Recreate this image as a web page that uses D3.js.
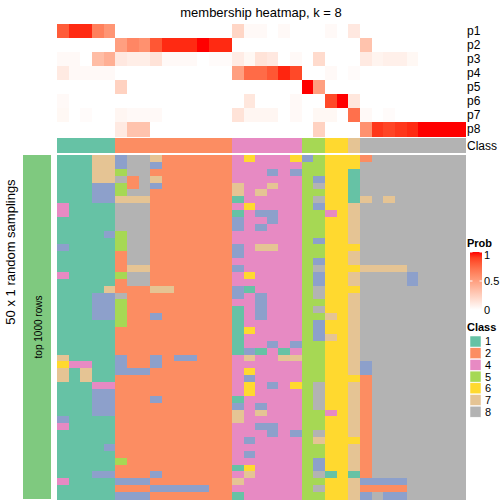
<!DOCTYPE html>
<html>
<head>
<meta charset="utf-8">
<script src="https://cdn.jsdelivr.net/npm/d3@7"></script>
<style>
  html, body { margin: 0; padding: 0; background: #fff; }
  svg { display: block; }
  text { font-family: "Liberation Sans", Arial, Helvetica, sans-serif; fill: #000; }
</style>
</head>
<body>
<div id="chart"></div>
<script>
// ---------- DATA ----------
const title = "membership heatmap, k = 8";
const probRows = ["p1", "p2", "p3", "p4", "p5", "p6", "p7", "p8"];
const p1 = [0.8,0.95,0.95,0.65,0.55, 0,0,0,0,0,0,0,0,0,0, 0.22,0.03,0.03,0,0.03,0, 0,0, 0.03,0, 0.12, 0,0,0,0,0,0,0,0,0];
const p2 = [0,0,0,0,0, 0.5,0.62,0.57,0.82,0.95,0.95,0.95,1,0.95,0.95, 0,0,0,0,0,0, 0,0, 0,0, 0, 0.32,0,0,0,0,0,0,0,0];
const p3 = [0.03,0.03,0,0.35,0.42, 0.12,0.09,0.09,0.15,0.03,0.03,0.03,0,0.02,0.02, 0.1,0.04,0.15,0.12,0,0.03, 0,0.19, 0,0, 0, 0.11,0.06,0.08,0.08,0.04,0,0,0,0];
const p4 = [0.11,0.03,0.03,0.03,0.03, 0,0,0,0,0,0,0,0,0,0, 0.5,0.74,0.74,0.82,0.96,0.87, 0,0, 0.03,0, 0.02, 0,0,0,0,0,0,0,0,0];
const p5 = [0,0,0,0,0, 0.24,0,0,0,0,0,0,0,0,0, 0,0,0,0,0,0, 1,0.5, 0,0, 0, 0,0,0,0,0,0,0,0,0];
const p6 = [0.03,0,0,0,0, 0,0,0,0,0,0,0,0,0,0, 0,0.13,0,0,0,0.03, 0,0, 0.87,1, 0.13, 0,0,0,0,0,0,0,0,0];
const p7 = [0.04,0,0.02,0,0, 0.05,0.03,0.03,0.03,0,0,0,0,0,0, 0.15,0.05,0.05,0.05,0,0.03, 0,0.04, 0.04,0, 0.72, 0.03,0,0.02,0,0,0,0,0,0];
const p8 = [0,0,0,0,0, 0.11,0.32,0.32,0,0,0,0,0,0,0, 0,0,0,0,0,0, 0,0.24, 0,0, 0, 0.57,0.92,0.88,0.92,0.95,1,1,1,1];
const membership = [p1, p2, p3, p4, p5, p6, p7, p8];

const classAnno = [1,1,1,1,1, 2,2,2,2,2,2,2,2,2,2, 4,4,4,4,4,4, 5,5, 6,6, 7, 8,8,8,8,8,8,8,8,8];
const legendClasses = ["1", "2", "4", "5", "6", "7", "8"];
const probTicks = [0, 0.5, 1];

// 50 random samplings x 35 columns (class per cell)
const samplings = [
  "11177388722222246444635666288888888",
  "11177388322222244444455666888888888",
  "11177588222222244434355661888888888",
  "11177828722222244444453661888888888",
  "11133528322222274474458661888888888",
  "11133588222222274744455661888888888",
  "11133777222222214444458661787888888",
  "41111888222222246444453667888888888",
  "41111888222222214334455467888888888",
  "11111888222222234434455667888888888",
  "11111888222222234344455667888888888",
  "11113588222222244444455667888888888",
  "11111588222222244444453667888888888",
  "31111588222222234774455666888888888",
  "11111288222222234444455667888888888",
  "11111288222222244444453667888888888",
  "11111277222222234444458666777788888",
  "41111588222222246444453667888838888",
  "11111288222222244444453667888838888",
  "11117222772222231444458666888888888",
  "11133822222222234344458667888888888",
  "11133522222222244344455667888888888",
  "11133522222222214344458667888888888",
  "11133522322222214344455767888888888",
  "11111522222222214444453667888888888",
  "11111222222222216444453667888888888",
  "11111222222222214444453767888888888",
  "11111222222222214434355667888888888",
  "11111222222222213141455667888888888",
  "71111322323322247447755667888888888",
  "64411322322222244444455667388888888",
  "71711333222222246444455667388888888",
  "71711222222222243444455666288888888",
  "11144222222222246434658667288888888",
  "11133222222222246444458667288888888",
  "11133222322222214444458667288888888",
  "11133222222222234344458667288888888",
  "11133222222222274744455467288888888",
  "31111222222222274444455667288888888",
  "41111222222222244334455667288888888",
  "11111222222222244434358667288888888",
  "11111222222222243444457666288888888",
  "11113222222222244444455667288888888",
  "11111222222222243444455667288888888",
  "11111522222222244444453667288888888",
  "11111222222222216444453667288888888",
  "11133222322222247444458161288888888",
  "41111333222222274444455667333388888",
  "11111222333332244444458667222288888",
  "11111333222222214444455667383388888"
];

// ---------- DRAW ----------
const W = 504, H = 504;
const svg = d3.select("#chart").append("svg").attr("width", W).attr("height", H);
svg.append("rect").attr("width", W).attr("height", H).attr("fill", "#fff");

const nCol = classAnno.length;
const x = d3.scaleBand().domain(d3.range(nCol)).range([57, 465]).padding(0);
const yTop = d3.scaleBand().domain(probRows).range([24, 136]).padding(0);
const yBot = d3.scaleBand().domain(d3.range(samplings.length)).range([155, 499]).padding(0);

const probColor = d3.scaleLinear().domain([0, 1]).range(["#ffffff", "#ff0000"]).interpolate(d3.interpolateLab);
const classColor = d3.scaleOrdinal()
  .domain(["1","2","3","4","5","6","7","8"])
  .range(["#66C2A5","#FC8D62","#8DA0CB","#E78AC3","#A6D854","#FFD92F","#E5C494","#B3B3B3"]);

// title
svg.append("text").attr("x", 261).attr("y", 17).attr("text-anchor", "middle")
  .attr("font-size", 13).text(title);

// membership heatmap
const gTop = svg.append("g").attr("shape-rendering", "crispEdges");
membership.forEach((row, i) => {
  gTop.selectAll(null).data(row).enter().append("rect")
    .attr("x", (d, j) => x(j)).attr("y", yTop(probRows[i]))
    .attr("width", x.bandwidth() + 0.5).attr("height", yTop.bandwidth() + 0.5)
    .attr("fill", d => probColor(d));
});
svg.selectAll(".plab").data(probRows).enter().append("text")
  .attr("x", 467).attr("y", d => yTop(d) + yTop.bandwidth() / 2)
  .attr("dy", "0.36em").attr("font-size", 12).text(d => d);

// class annotation
const annoY = 138, annoH = 14.5;
svg.append("g").attr("shape-rendering", "crispEdges")
  .selectAll("rect").data(classAnno).enter().append("rect")
  .attr("x", (d, j) => x(j)).attr("y", annoY)
  .attr("width", x.bandwidth() + 0.5).attr("height", annoH)
  .attr("fill", d => classColor(String(d)));
svg.append("text").attr("x", 467).attr("y", annoY + annoH / 2).attr("dy", "0.36em")
  .attr("font-size", 12).text("Class");

// sampling heatmap
const gBot = svg.append("g").attr("shape-rendering", "crispEdges");
samplings.forEach((s, r) => {
  gBot.selectAll(null).data(s.split("")).enter().append("rect")
    .attr("x", (d, j) => x(j)).attr("y", yBot(r))
    .attr("width", x.bandwidth() + 0.5).attr("height", yBot.bandwidth() + 0.5)
    .attr("fill", d => classColor(d));
});

// left annotation
svg.append("rect").attr("x", 23).attr("y", 155).attr("width", 28).attr("height", 344)
  .attr("fill", "#7FC97F");
svg.append("text").attr("transform", "translate(41.5,327) rotate(-90)")
  .attr("text-anchor", "middle").attr("font-size", 10).text("top 1000 rows");
svg.append("text").attr("transform", "translate(15,252) rotate(-90)")
  .attr("text-anchor", "middle").attr("font-size", 13).text("50 x 1 random samplings");

// Prob legend
svg.append("text").attr("x", 467).attr("y", 247).attr("font-size", 11)
  .attr("font-weight", "bold").text("Prob");
const defs = svg.append("defs");
const grad = defs.append("linearGradient").attr("id", "pg")
  .attr("x1", 0).attr("y1", 1).attr("x2", 0).attr("y2", 0);
d3.range(0, 1.0001, 0.1).forEach(t => {
  grad.append("stop").attr("offset", t).attr("stop-color", probColor(t));
});
const lgY = d3.scaleLinear().domain([0, 1]).range([310, 252]);
svg.append("rect").attr("x", 470).attr("y", 252).attr("width", 12).attr("height", 58)
  .attr("fill", "url(#pg)");
probTicks.forEach(t => {
  const yy = lgY(t);
  svg.append("line").attr("x1", 470).attr("x2", 472.5).attr("y1", yy).attr("y2", yy)
    .attr("stroke", "#fff").attr("stroke-width", 1);
  svg.append("line").attr("x1", 479.5).attr("x2", 482).attr("y1", yy).attr("y2", yy)
    .attr("stroke", "#fff").attr("stroke-width", 1);
  svg.append("text").attr("x", 484).attr("y", Math.max(yy, 255)).attr("dy", "0.36em")
    .attr("font-size", 11).text(t === 0.5 ? "0.5" : String(t));
});

// Class legend
svg.append("text").attr("x", 467).attr("y", 331).attr("font-size", 11)
  .attr("font-weight", "bold").text("Class");
legendClasses.forEach((c, i) => {
  const yy = 336 + i * 11.7;
  svg.append("rect").attr("x", 470).attr("y", yy).attr("width", 11).attr("height", 11)
    .attr("fill", classColor(c)).attr("stroke", "#fff").attr("stroke-width", 0.5);
  svg.append("text").attr("x", 485).attr("y", yy + 5.5).attr("dy", "0.36em")
    .attr("font-size", 11).text(c);
});
</script>
</body>
</html>
